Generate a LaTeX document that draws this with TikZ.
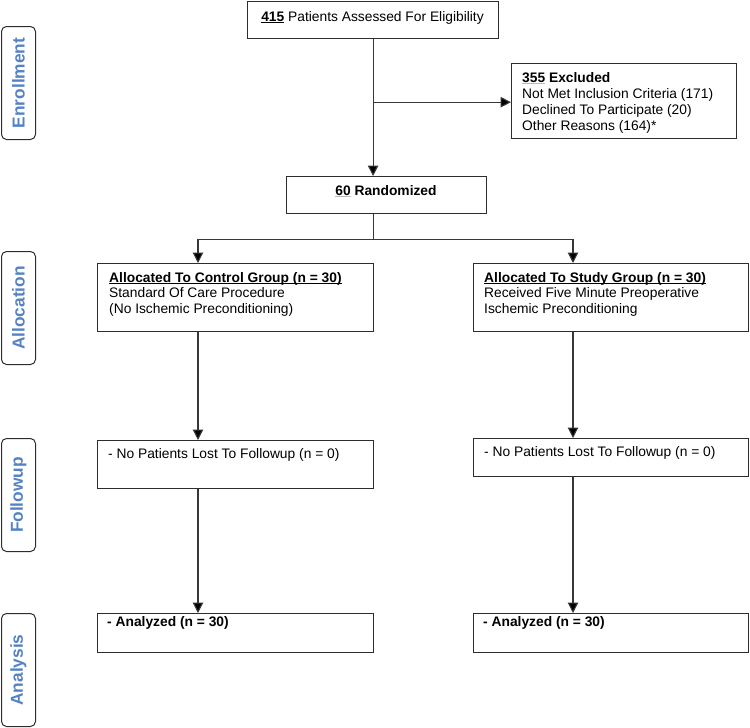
\documentclass[tikz,border=0pt]{standalone}
\usepackage{fontspec}
\setmainfont{Liberation Sans}
\usetikzlibrary{arrows.meta}
\definecolor{lblblue}{RGB}{84,130,195}
\definecolor{boxline}{RGB}{45,45,45}
\definecolor{conline}{RGB}{55,55,55}
\newcommand\myul[2][black]{\setbox0\hbox{#2}\rlap{\color{#1}\rule[-2.3pt]{\wd0}{1pt}}\box0\relax}
\tikzset{
  box/.style={draw=boxline, line width=1.2pt, anchor=north west, inner sep=0pt},
  side/.style={draw=boxline, line width=1pt, rounded corners=5pt, anchor=north west, inner sep=0pt,
    minimum width=34pt, minimum height=113pt},
  sidetxt/.style={text=lblblue, font=\fontsize{17.3}{20}\selectfont\bfseries, rotate=90, inner sep=0pt},
  txt/.style={font=\fontsize{13.8}{16}\selectfont, inner sep=0pt, anchor=base west, align=left},
  arr/.style={draw=conline, line width=1.1pt, -{Triangle[width=10.5pt,length=10.5pt,fill=black]}},
  con/.style={draw=conline, line width=1.1pt}
}
\begin{document}
\begin{tikzpicture}[x=1pt,y=-1pt]
\useasboundingbox (0,0) rectangle (750,728);
% side labels
\node[side] (sEnr) at (1,26) {};
\node[sidetxt] (tEnr) at (sEnr.center) {Enrollment};
\node[side] (sAll) at (1,251) {};
\node[sidetxt] (tAll) at (sAll.center) {Allocation};
\node[side] (sFol) at (1,438) {};
\node[sidetxt] (tFol) at (sFol.center) {Followup};
\node[side] (sAna) at (1,613) {};
\node[sidetxt] (tAna) at (sAna.center) {Analysis};
% boxes
\node[box, minimum width=251pt, minimum height=37pt] (assess) at (247,1) {};
\node[txt, anchor=base] (tAssess) at (372.5,21) {\myul{\textbf{415}} Patients Assessed For Eligibility};
\node[box, minimum width=225pt, minimum height=75pt] (excl) at (511,63) {};
\node[txt] (tExcl) at (522,130) {\myul[gray!55]{\textbf{355}} \textbf{Excluded}\\Not Met Inclusion Criteria (171)\\Declined To Participate (20)\\Other Reasons (164)*};
\node[box, minimum width=200pt, minimum height=37pt] (rand) at (286,176) {};
\node[txt, anchor=base] (tRand) at (386,195) {\myul[gray!55]{\textbf{60}} \textbf{Randomized}};
\node[box, minimum width=276pt, minimum height=68pt] (allocL) at (97,263) {};
\node[txt, font=\fontsize{13.8}{15.5}\selectfont] (tAllocL) at (109,313) {\myul{\textbf{Allocated To Control Group (n = 30)}}\\Standard Of Care Procedure\\(No Ischemic Preconditioning)};
\node[box, minimum width=275pt, minimum height=68pt] (allocR) at (473,263) {};
\node[txt, font=\fontsize{13.8}{15.5}\selectfont] (tAllocR) at (484,313) {\myul{\textbf{Allocated To Study Group (n = 30)}}\\Received Five Minute Preoperative\\Ischemic Preconditioning};
\node[box, minimum width=276pt, minimum height=48pt] (followL) at (97,440) {};
\node[txt] (tFollowL) at (108,458) {- No Patients Lost To Followup (n = 0)};
\node[box, minimum width=275pt, minimum height=38pt] (followR) at (473,438) {};
\node[txt] (tFollowR) at (484,456) {- No Patients Lost To Followup (n = 0)};
\node[box, minimum width=276pt, minimum height=39pt] (anaL) at (97,613) {};
\node[txt] (tAnaL) at (107,626) {\textbf{- Analyzed (n = 30)}};
\node[box, minimum width=275pt, minimum height=39pt] (anaR) at (473,613) {};
\node[txt] (tAnaR) at (483,626) {\textbf{- Analyzed (n = 30)}};
% connectors
\draw[arr] (assess.south) -- (assess.south |- rand.north);
\coordinate (br) at ([yshift=-63pt]assess.south);
\draw[arr] (br) -- (br -| excl.west);
\draw[con] (rand.south -| assess.south) -- ++(0,25) coordinate (split);
\draw[arr] (split) -| ([xshift=101pt]allocL.north west);
\draw[arr] (split) -| ([xshift=100pt]allocR.north west);
\draw[arr] ([xshift=101pt]allocL.south west) -- ([xshift=101pt]followL.north west);
\draw[arr] ([xshift=100pt]allocR.south west) -- ([xshift=100pt]followR.north west);
\draw[arr] ([xshift=101pt]followL.south west) -- ([xshift=101pt]anaL.north west);
\draw[arr] ([xshift=100pt]followR.south west) -- ([xshift=100pt]anaR.north west);
\end{tikzpicture}
\end{document}
